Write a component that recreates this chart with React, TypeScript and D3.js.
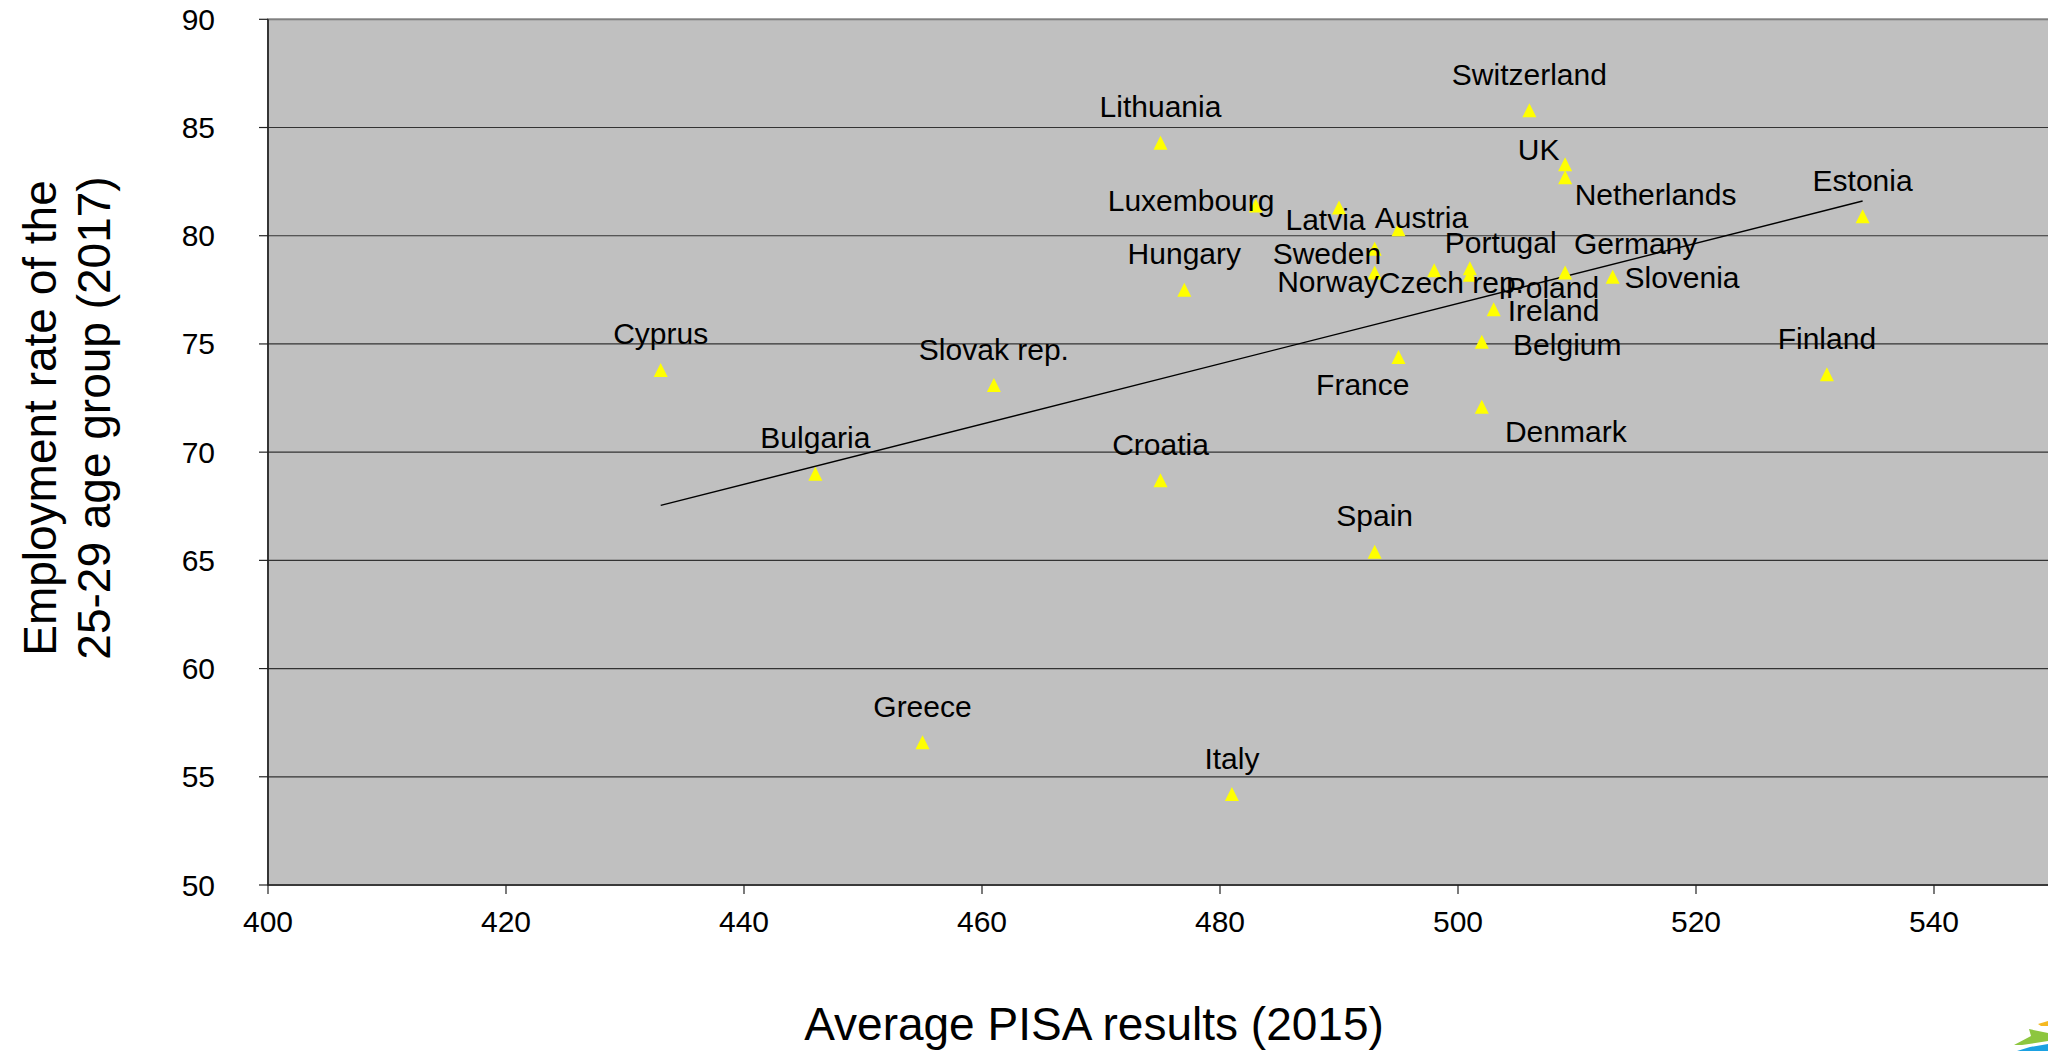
import React from "react";
import * as d3 from "d3";

// Country data: PISA 2015 average vs employment rate of 25-29 year olds (2017)
const countries = [
  "Cyprus", "Bulgaria", "Greece", "Slovak rep.", "Lithuania", "Croatia", "Hungary",
  "Italy", "Luxembourg", "Latvia", "Sweden", "Czech rep.", "Spain", "Austria",
  "France", "Norway", "Portugal", "Poland", "Belgium", "Denmark", "Ireland",
  "Switzerland", "UK", "Netherlands", "Germany", "Slovenia", "Finland", "Estonia",
];
const pisaScores = [
  433, 446, 455, 461, 475, 475, 477,
  481, 483, 490, 493, 493, 493, 495,
  495, 498, 501, 501, 502, 502, 503,
  506, 509, 509, 509, 513, 531, 534,
];
const employmentRates = [
  73.8, 69.0, 56.6, 73.1, 84.3, 68.7, 77.5,
  54.2, 81.4, 81.3, 79.4, 78.3, 65.4, 80.3,
  74.4, 78.4, 78.5, 78.2, 75.1, 72.1, 76.6,
  85.8, 83.3, 82.7, 78.3, 78.1, 73.6, 80.9,
];

// Axis ticks (the axis runs to 560, beyond the right edge of the canvas)
const xTicks = [400, 420, 440, 460, 480, 500, 520, 540];
const yTicks = [50, 55, 60, 65, 70, 75, 80, 85, 90];

// Label placement relative to each marker (px): [dx, dy] of the text centre/baseline
const ABOVE: [number, number] = [0, -25.5];
const labelOffsets: Record<string, [number, number]> = {
  Luxembourg: [-64.6, 5.4],
  Latvia: [-13.5, 22.3],
  Sweden: [-47.8, 15],
  "Czech rep.": [76.7, 20.3],
  Austria: [23, -1],
  France: [-35.7, 37.9],
  Norway: [-106.2, 21.4],
  Portugal: [30.8, -14.7],
  Poland: [82.5, 23.4],
  Belgium: [85.5, 13],
  Denmark: [84, 35.4],
  Ireland: [59.8, 11.3],
  UK: [-26.5, -4.7],
  Netherlands: [90.5, 27.3],
  Germany: [70.5, -18.7],
  Slovenia: [69.3, 11.3],
};

const W = 2048;
const H = 1051;
const FONT = "'Liberation Sans', Arial, Helvetica, sans-serif";

export default function App() {
  const x = d3.scaleLinear().domain([400, 560]).range([268, 268 + 8 * 238]);
  const y = d3.scaleLinear().domain([50, 90]).range([885, 19.3]);

  const points = countries.map((c, i) => ({ name: c, px: pisaScores[i], er: employmentRates[i] }));

  // Least-squares linear trend line over the range of the data
  const mx = d3.mean(pisaScores) as number;
  const my = d3.mean(employmentRates) as number;
  const sxy = d3.sum(pisaScores, (v, i) => (v - mx) * (employmentRates[i] - my));
  const sxx = d3.sum(pisaScores, (v) => (v - mx) * (v - mx));
  const slope = sxy / sxx;
  const intercept = my - slope * mx;
  const [xMin, xMax] = d3.extent(pisaScores) as [number, number];
  const trend = [xMin, xMax].map((v) => [v, intercept + slope * v] as [number, number]);
  const trendPath = d3
    .line<[number, number]>()
    .x((d) => x(d[0]))
    .y((d) => y(d[1]))(trend) as string;

  const triangle = (cx: number, cy: number) => {
    const p = d3.path();
    p.moveTo(cx, cy - 7);
    p.lineTo(cx + 7, cy + 7);
    p.lineTo(cx - 7, cy + 7);
    p.closePath();
    return p.toString();
  };

  const left = x(400);
  const top = y(90);
  const bottom = y(50);

  return (
    <svg
      width={W}
      height={H}
      style={{ position: "absolute", left: 0, top: 0, background: "#fff" }}
      fontFamily={FONT}
    >
      <defs>
        <clipPath id="plotClip">
          <rect x={left} y={top - 2} width={W - left} height={bottom - top + 4} />
        </clipPath>
      </defs>

      {/* plot area */}
      <rect x={left} y={top} width={x(560) - left} height={bottom - top} fill="#C0C0C0" stroke="#808080" strokeWidth={2} />

      {/* horizontal gridlines */}
      {yTicks.slice(1, -1).map((t) => (
        <line key={"g" + t} x1={left} x2={W} y1={y(t)} y2={y(t)} stroke="#333" strokeWidth={1.2} />
      ))}

      {/* axes */}
      <line x1={left} x2={left} y1={top} y2={bottom} stroke="#222" strokeWidth={1.6} />
      <line x1={left} x2={W} y1={bottom} y2={bottom} stroke="#222" strokeWidth={1.6} />

      {/* y ticks and labels */}
      {yTicks.map((t) => (
        <g key={"y" + t}>
          <line x1={left - 9} x2={left} y1={y(t)} y2={y(t)} stroke="#222" strokeWidth={1.2} />
          <text x={215} y={y(t)} dy="0.35em" textAnchor="end" fontSize={30} fill="#000">
            {t}
          </text>
        </g>
      ))}

      {/* x ticks and labels */}
      {xTicks.map((t) => (
        <g key={"x" + t}>
          <line x1={x(t)} x2={x(t)} y1={bottom} y2={bottom + 9} stroke="#222" strokeWidth={1.2} />
          <text x={x(t)} y={932} textAnchor="middle" fontSize={30} fill="#000">
            {t}
          </text>
        </g>
      ))}

      <g clipPath="url(#plotClip)">
        {/* trend line */}
        <path d={trendPath} fill="none" stroke="#000" strokeWidth={1.4} />

        {/* markers */}
        {points.map((p) => (
          <path key={"m" + p.name} d={triangle(x(p.px), y(p.er))} fill="#FFFF00" />
        ))}

        {/* data labels */}
        {points.map((p) => {
          const [dx, dy] = labelOffsets[p.name] ?? ABOVE;
          return (
            <text
              key={"l" + p.name}
              x={x(p.px) + dx}
              y={y(p.er) + dy}
              textAnchor="middle"
              fontSize={30}
              fill="#000"
            >
              {p.name}
            </text>
          );
        })}
      </g>

      {/* axis titles */}
      <text x={1094} y={1040} textAnchor="middle" fontSize={46} fill="#000">
        Average PISA results (2015)
      </text>
      <g transform="translate(56,418) rotate(-90)">
        <text x={0} y={0} textAnchor="middle" fontSize={46} fill="#000">
          Employment rate of the
        </text>
        <text x={0} y={54} textAnchor="middle" fontSize={46} fill="#000">
          25-29 age group (2017)
        </text>
      </g>

      {/* corner emblem */}
      <g>
        <polygon points="2038,1024 2048,1021 2048,1026 2041,1026" fill="#F5B921" />
        <polygon points="2014,1045 2031,1036 2029,1029 2048,1033 2048,1041 2022,1045" fill="#8DC63F" />
        <polygon points="2017,1051 2030,1047 2048,1044 2048,1051" fill="#1BA1E2" />
      </g>
    </svg>
  );
}
